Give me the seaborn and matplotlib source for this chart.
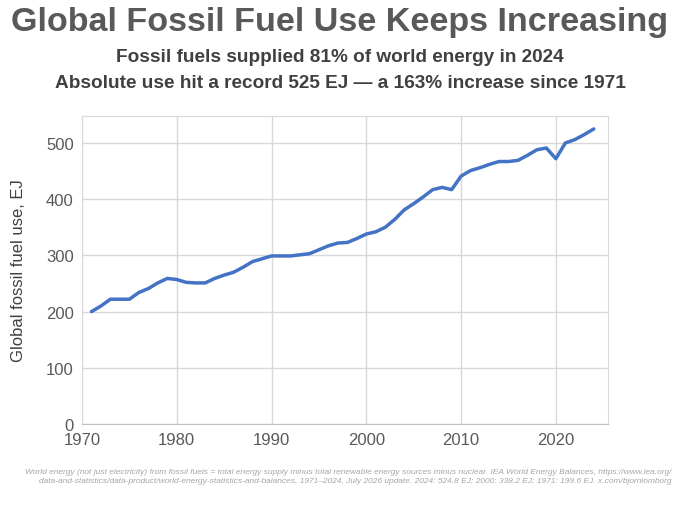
import matplotlib
matplotlib.use("Agg")
import matplotlib.pyplot as plt
import seaborn as sns
import pandas as pd

years = list(range(1971, 2025))
fossil_ej = [200, 210, 222, 222, 222, 234, 241, 251, 259, 257,
             252, 251, 251, 259, 265, 270, 279, 289, 294, 299,
             299, 299, 301, 303, 310, 317, 322, 323, 330, 338,
             342, 350, 364, 381, 392, 404, 417, 421, 417, 441,
             451, 456, 462, 467, 467, 469, 478, 488, 491, 472,
             500, 506, 515, 525]
df = pd.DataFrame({"year": years, "ej": fossil_ej})

sns.set_style("white")
plt.rcParams['font.family'] = ['Liberation Sans', 'DejaVu Sans']

fig = plt.figure(figsize=(6.8, 5.1), dpi=100)
ax = fig.add_axes([82/680, 1-425/510, (608-82)/680, (425-117)/510])
sns.lineplot(data=df, x="year", y="ej", ax=ax, color="#4472C4", linewidth=2.5)
ax.set_xlim(1970, 2025.5)
ax.set_ylim(0, 548)
ax.set_xticks([1970, 1980, 1990, 2000, 2010, 2020])
ax.set_yticks([0, 100, 200, 300, 400, 500])
ax.grid(True, color="#d9d9d9", linewidth=1)
for s in ax.spines.values():
    s.set_color("#d9d9d9")
ax.spines["left"].set_visible(False)
ax.spines["bottom"].set_color("#bfbfbf")
ax.tick_params(axis="both", labelsize=12, colors="#595959", length=0, pad=6)
ax.set_xlabel("")
ax.set_ylabel("Global fossil fuel use, EJ", fontsize=12, color="#404040", labelpad=14)

fig.text(0.5, 0.955, "Global Fossil Fuel Use Keeps Increasing", ha="center", va="center",
         fontsize=24.6, fontweight="bold", color="#595959")
fig.text(0.5, 0.887, "Fossil fuels supplied 81% of world energy in 2024", ha="center", va="center",
         fontsize=13.7, fontweight="bold", color="#404040")
fig.text(0.5, 0.837, "Absolute use hit a record 525 EJ \u2014 a 163% increase since 1971", ha="center",
         va="center", fontsize=13.7, fontweight="bold", color="#404040")
fig.text(0.988, 0.065, "World energy (not just electricity) from fossil fuels = total energy supply minus total renewable energy sources minus nuclear. IEA World Energy Balances, https://www.iea.org/\n"
         "data-and-statistics/data-product/world-energy-statistics-and-balances, 1971\u20132024, July 2026 update. 2024: 524.8 EJ; 2000: 338.2 EJ; 1971: 199.6 EJ. x.com/bjornlomborg",
         ha="right", va="center", fontsize=6.05, style="italic", color="#a6a6a6", linespacing=1.45)
fig.savefig("out.png", dpi=100)
